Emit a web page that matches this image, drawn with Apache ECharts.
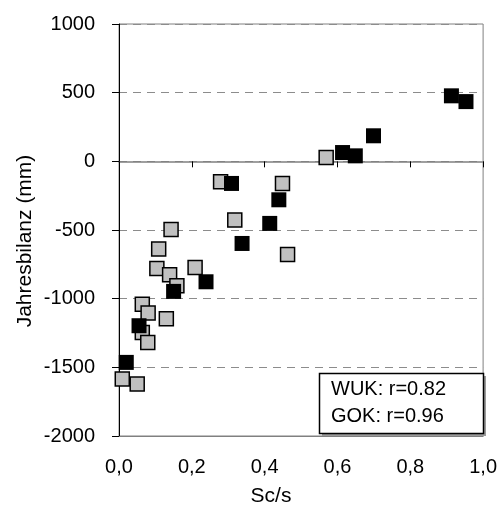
<!DOCTYPE html>
<html>
<head>
<meta charset="utf-8">
<script src="https://cdn.jsdelivr.net/npm/echarts@6/dist/echarts.min.js"></script>
<style>
  html, body { margin: 0; padding: 0; background: #fff; }
  #chart { width: 500px; height: 513px; }
</style>
</head>
<body>
<div id="chart"></div>
<script>
// ---- data ----
const wukX = [0.569, 0.279, 0.449, 0.318, 0.143, 0.109, 0.463, 0.104, 0.209, 0.139, 0.159, 0.064, 0.080, 0.130, 0.064, 0.079, 0.009, 0.050];
const wukY = [28, -149, -161, -428, -496, -639, -678, -780, -773, -826, -906, -1040, -1105, -1146, -1246, -1319, -1585, -1622];
const gokX = [0.913, 0.953, 0.699, 0.614, 0.649, 0.309, 0.439, 0.414, 0.338, 0.239, 0.150, 0.055, 0.020];
const gokY = [477, 435, 186, 64, 40, -161, -280, -452, -598, -877, -947, -1197, -1464];
const xTicks = [0, 0.2, 0.4, 0.6, 0.8, 1.0];
const yTicks = [-2000, -1500, -1000, -500, 0, 500, 1000];
const legendLines = ['WUK: r=0.82', 'GOK: r=0.96'];
const xTitle = 'Sc/s';
const yTitle = 'Jahresbilanz (mm)';

const FONT = "'Liberation Sans', Arial, sans-serif";
const pairs = (xs, ys) => xs.map((x, i) => [x, ys[i]]);

const chart = echarts.init(document.getElementById('chart'), null, { renderer: 'canvas' });
const option = {
  animation: false,
  backgroundColor: '#ffffff',
  grid: { left: 119, right: 16, top: 24, bottom: 77, show: true, borderColor: '#808080', borderWidth: 1 },
  xAxis: [
    {
      type: 'value', min: xTicks[0], max: xTicks[xTicks.length - 1], interval: 0.2,
      position: 'bottom',
      axisLine: { onZero: false, show: true, lineStyle: { color: '#808080', width: 1 } },
      axisTick: { show: false },
      splitLine: { show: false },
      axisLabel: {
        color: '#000', fontSize: 20, fontFamily: FONT, margin: 21,
        formatter: v => v.toFixed(1).replace('.', ',')
      }
    },
    {
      type: 'value', min: xTicks[0], max: xTicks[xTicks.length - 1], interval: 0.2,
      position: 'bottom',
      axisLine: { onZero: true, onZeroAxisIndex: 0, show: true, lineStyle: { color: '#808080', width: 1.5 } },
      axisTick: { show: true, length: 6, inside: false, lineStyle: { color: '#000', width: 1 } },
      splitLine: { show: false },
      axisLabel: { show: false }
    }
  ],
  yAxis: {
    type: 'value', min: yTicks[0], max: yTicks[yTicks.length - 1], interval: 500,
    axisLine: { onZero: false, show: true, lineStyle: { color: '#000', width: 1 } },
    axisTick: { show: true, length: 7, inside: false, lineStyle: { color: '#000', width: 1 } },
    splitLine: { show: true, lineStyle: { color: '#8c8c8c', type: [8, 6], width: 1 } },
    axisLabel: { color: '#000', fontSize: 20, fontFamily: FONT, margin: 24, formatter: v => String(v) }
  },
  series: [
    {
      name: 'WUK', type: 'scatter', xAxisIndex: 0, symbol: 'rect', symbolSize: 14,
      itemStyle: { color: '#c0c0c0', borderColor: '#000', borderWidth: 1.5, opacity: 1 },
      data: pairs(wukX, wukY), z: 3
    },
    {
      name: 'GOK', type: 'scatter', xAxisIndex: 0, symbol: 'rect', symbolSize: 15,
      itemStyle: { color: '#000', borderColor: '#000', borderWidth: 0, opacity: 1 },
      data: pairs(gokX, gokY), z: 4
    }
  ],
  graphic: [
    {
      type: 'rect', shape: { x: 322, y: 376, width: 164, height: 60 },
      style: { fill: '#9a9a9a' }, z: 10
    },
    {
      type: 'rect', shape: { x: 319.5, y: 373.5, width: 164, height: 60 },
      style: { fill: '#fff', stroke: '#000', lineWidth: 1.5 }, z: 11
    },
    {
      type: 'text', x: 331, y: 389, z: 12,
      style: { text: legendLines[0], font: '20px ' + FONT, fill: '#000', textVerticalAlign: 'middle', verticalAlign: 'middle' }
    },
    {
      type: 'text', x: 331, y: 416, z: 12,
      style: { text: legendLines[1], font: '20px ' + FONT, fill: '#000', textVerticalAlign: 'middle', verticalAlign: 'middle' }
    },
    {
      type: 'text', x: 271, y: 496, z: 12,
      style: { text: xTitle, font: '21px ' + FONT, fill: '#000', textAlign: 'center', align: 'center', textVerticalAlign: 'middle', verticalAlign: 'middle' }
    },
    {
      type: 'text', x: 25, y: 241, rotation: Math.PI / 2, z: 12,
      style: { text: yTitle, font: '21px ' + FONT, fill: '#000', textAlign: 'center', align: 'center', textVerticalAlign: 'middle', verticalAlign: 'middle' }
    }
  ]
};
chart.setOption(option);
</script>
</body>
</html>
